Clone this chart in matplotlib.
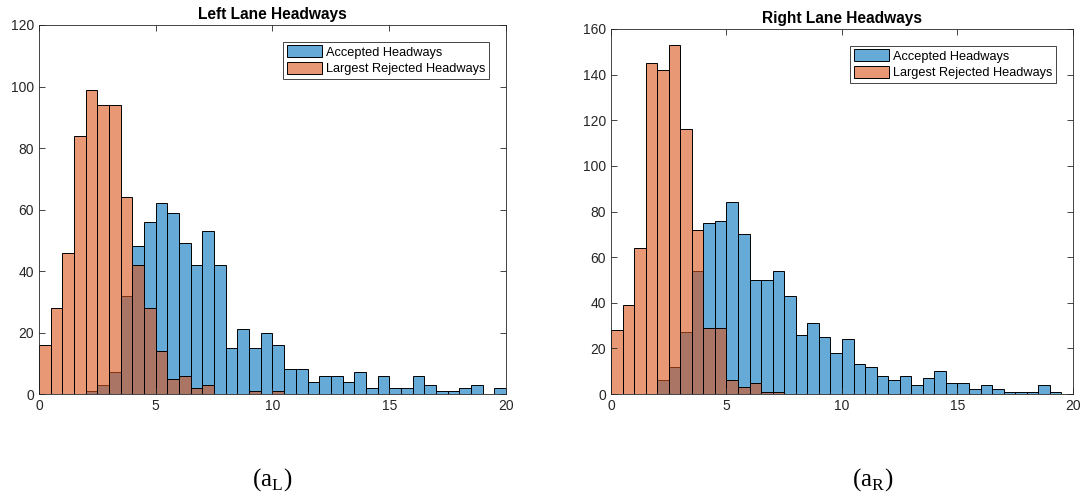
import numpy as np
import matplotlib.pyplot as plt

plt.rcParams['font.family'] = ['Liberation Sans', 'DejaVu Sans']
plt.rcParams['mathtext.fontset'] = 'custom'
plt.rcParams['mathtext.rm'] = 'Liberation Serif'

# Histogram counts, 0.5 s bins from 0 to 20 s
bin_edges = np.arange(0, 20.5, 0.5)

left_accepted = [0, 0, 0, 0, 1, 3, 7, 32, 48, 56, 62, 59, 49, 42, 53, 42, 15, 21, 15, 20,
                 16, 8, 8, 4, 6, 6, 4, 7, 2, 6, 2, 2, 6, 3, 1, 1, 2, 3, 0, 2]
left_rejected = [16, 28, 46, 84, 99, 94, 94, 64, 42, 28, 14, 5, 6, 2, 3, 0, 0, 0, 1, 0,
                 1, 0, 0, 0, 0, 0, 0, 0, 0, 0, 0, 0, 0, 0, 0, 0, 0, 0, 0, 0]

right_accepted = [0, 0, 0, 0, 6, 12, 27, 54, 75, 76, 84, 70, 50, 50, 54, 43, 26, 31, 25, 18,
                  24, 13, 12, 8, 6, 8, 4, 7, 10, 5, 5, 2, 4, 2, 1, 1, 1, 4, 1, 0]
right_rejected = [28, 39, 64, 145, 142, 153, 116, 72, 29, 29, 6, 3, 5, 1, 1, 0, 0, 0, 0, 0,
                  0, 0, 0, 0, 0, 0, 0, 0, 0, 0, 0, 0, 0, 0, 0, 0, 0, 0, 0, 0]

titles = ['Left Lane Headways', 'Right Lane Headways']
captions = [r'(a$_\mathrm{L}$)', r'(a$_\mathrm{R}$)']
y_limits = [120, 160]

blue = (0, 0.447, 0.741)
orange = (0.85, 0.325, 0.098)
axis_grey = '#262626'

fig = plt.figure(figsize=(10.86, 4.99), dpi=100)
ax_left = fig.add_axes([0.0359, 0.2104, 0.4300, 0.7395])
ax_right = fig.add_axes([0.5626, 0.2104, 0.4254, 0.7315])

panels = [(ax_left, left_accepted, left_rejected),
          (ax_right, right_accepted, right_rejected)]

for i, (ax, accepted, rejected) in enumerate(panels):
    ax.bar(bin_edges[:-1], accepted, width=0.5, align='edge',
           color=blue + (0.6,), edgecolor='black', linewidth=0.7,
           label='Accepted Headways')
    ax.bar(bin_edges[:-1], rejected, width=0.5, align='edge',
           color=orange + (0.6,), edgecolor='black', linewidth=0.7,
           label='Largest Rejected Headways')

    ax.set_xlim(0, 20)
    ax.set_ylim(0, y_limits[i])
    ax.set_xticks([0, 5, 10, 15, 20])
    ax.set_yticks(np.arange(0, y_limits[i] + 1, 20))
    ax.tick_params(direction='in', top=True, right=True, labelsize=10,
                   color=axis_grey, labelcolor=axis_grey, length=4, width=0.6)
    for spine in ax.spines.values():
        spine.set_color(axis_grey)
        spine.set_linewidth(0.6)

    ax.set_title(titles[i], fontsize=11.2, fontweight='bold', pad=4)

    leg = ax.legend(loc='upper right', fontsize=9.2, fancybox=False,
                    framealpha=1, edgecolor=axis_grey, borderaxespad=1.3,
                    handlelength=2.7, handleheight=1.0, handletextpad=0.35,
                    borderpad=0.3, labelspacing=0.3)
    leg.get_frame().set_linewidth(0.6)

fig.text(0.2505, 0.038, captions[0], ha='center', va='center', fontsize=18,
         family='Liberation Serif')
fig.text(0.8038, 0.038, captions[1], ha='center', va='center', fontsize=18,
         family='Liberation Serif')

fig.savefig('out.png', dpi=100)
